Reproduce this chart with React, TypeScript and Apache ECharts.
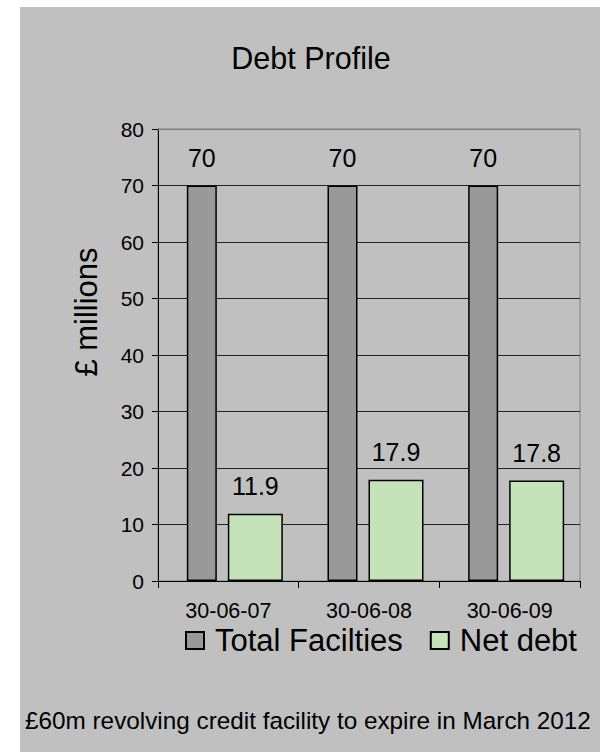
import React, { useEffect, useRef } from 'react';
import * as echarts from 'echarts';

const categories = ['30-06-07', '30-06-08', '30-06-09'];
const totalFacilities = [70, 70, 70];
const netDebt = [11.9, 17.9, 17.8];
const seriesNames = ['Total Facilties', 'Net debt'];
const yMin = 0;
const yMax = 80;
const yInterval = 10;
const titleText = 'Debt Profile';
const yAxisName = '£ millions';
const footnote = '£60m revolving credit facility to expire in March 2012';

const FONT = '"Liberation Sans", Arial, sans-serif';

export default function App() {
  const ref = useRef<HTMLDivElement>(null);
  useEffect(() => {
    if (!ref.current) return;
    const chart = echarts.init(ref.current, undefined, { renderer: 'svg' });
    const labelCommon = {
      show: true,
      position: 'top',
      distance: 15,
      fontSize: 25,
      color: '#000',
      fontFamily: FONT,
    };
    chart.setOption({
      animation: false,
      backgroundColor: 'transparent',
      textStyle: { fontFamily: FONT },
      grid: {
        left: 158,
        right: 20,
        top: 129,
        bottom: 171,
        show: true,
        borderColor: '#808080',
        borderWidth: 1,
        backgroundColor: 'transparent',
      },
      legend: {
        data: seriesNames,
        left: 180,
        top: 620,
        icon: 'rect',
        itemWidth: 18,
        itemHeight: 17,
        itemGap: 27,
        textStyle: { fontSize: 31, color: '#000', fontFamily: FONT, padding: [0, 0, 0, 6] },
      },
      xAxis: {
        type: 'category',
        data: categories,
        axisLine: { lineStyle: { color: '#000', width: 1 } },
        axisTick: { show: true, length: 7, lineStyle: { color: '#000' } },
        axisLabel: { fontSize: 21.5, color: '#000', margin: 19, fontFamily: FONT },
      },
      yAxis: {
        type: 'value',
        min: yMin,
        max: yMax,
        interval: yInterval,
        axisLine: { show: true, lineStyle: { color: '#000', width: 1 } },
        axisTick: { show: true, length: 6, lineStyle: { color: '#000' } },
        axisLabel: { fontSize: 21, color: '#000', margin: 14, fontFamily: FONT },
        splitLine: { show: true, lineStyle: { color: '#222', width: 1 } },
      },
      series: [
        {
          type: 'bar',
          name: '_pad',
          data: [],
          barWidth: 9.5,
          barGap: '36.7%',
        },
        {
          type: 'bar',
          name: seriesNames[0],
          data: totalFacilities,
          barWidth: 30,
          barGap: '36.7%',
          itemStyle: { color: '#999999', borderColor: '#000', borderWidth: 1.5 },
          label: labelCommon,
        },
        {
          type: 'bar',
          name: seriesNames[1],
          data: netDebt,
          barWidth: 55,
          barGap: '36.7%',
          itemStyle: { color: '#c5e3b9', borderColor: '#000', borderWidth: 1.5 },
          label: labelCommon,
        },
      ],
      graphic: [
        {
          type: 'line',
          z: 100,
          shape: { x1: 158, y1: 129.5, x2: 580, y2: 129.5 },
          style: { stroke: '#808080', lineWidth: 1 },
        },
        {
          type: 'text',
          x: 311,
          y: 58,
          style: {
            text: titleText,
            fontSize: 30.5,
            fontFamily: FONT,
            fill: '#000',
            textAlign: 'center',
            textVerticalAlign: 'middle',
          },
        },
        {
          type: 'text',
          x: 86,
          y: 312,
          rotation: Math.PI / 2,
          style: {
            text: yAxisName,
            fontSize: 31,
            fontFamily: FONT,
            fill: '#000',
            textAlign: 'center',
            textVerticalAlign: 'middle',
          },
        },
        {
          type: 'text',
          x: 25,
          y: 720,
          style: {
            text: footnote,
            fontSize: 24.3,
            fontFamily: FONT,
            fill: '#000',
            textAlign: 'left',
            textVerticalAlign: 'middle',
          },
        },
      ],
    });
    return () => chart.dispose();
  }, []);
  return (
    <div style={{ position: 'fixed', left: 0, top: 0, width: 600, height: 752, background: '#fff' }}>
      <div style={{ position: 'absolute', left: 20, top: 7, right: 0, bottom: 0, background: '#c0c0c0' }} />
      <div ref={ref} style={{ position: 'absolute', left: 0, top: 0, width: 600, height: 752 }} />
    </div>
  );
}
